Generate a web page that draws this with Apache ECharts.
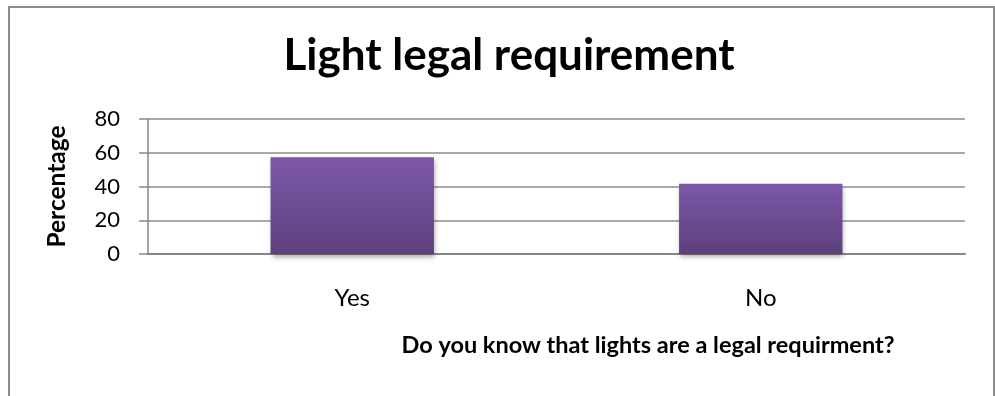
<!DOCTYPE html>
<html>
<head>
<meta charset="utf-8">
<script src="https://cdn.jsdelivr.net/npm/echarts@6/dist/echarts.min.js"></script>
<style>
  html, body { margin: 0; padding: 0; background: #fff; }
  #chart { width: 995px; height: 396px; position: absolute; left: 0; top: 0; }
  #frame {
    position: absolute; left: 8px; top: 6px; width: 983px; height: 400px;
    border: 2px solid #8c8c8c; border-bottom: none; pointer-events: none;
  }
</style>
</head>
<body>
<div id="chart"></div>
<div id="frame"></div>
<script>
const categories = ["Yes", "No"];
const percentages = [57.4, 41.6];
const yTicks = [0, 20, 40, 60, 80];

const chart = echarts.init(document.getElementById("chart"));

const barFill = new echarts.graphic.LinearGradient(0, 0, 0, 1, [
  { offset: 0, color: "#7c58a8" },
  { offset: 1, color: "#5e407d" },
]);

chart.setOption({
  animation: false,
  textStyle: { fontFamily: "Lato" },
  title: [
    {
      text: "Light legal requirement",
      left: 504,
      textAlign: "center",
      top: 29,
      textStyle: { fontFamily: "Lato", fontWeight: "bold", fontSize: 44, color: "#000" },
    },
    {
      // x axis title sits right of centre in the original
      text: "Do you know that lights are a legal requirment?",
      left: 643,
      textAlign: "center",
      top: 328,
      textStyle: { fontFamily: "Lato", fontWeight: "bold", fontSize: 23.5, color: "#000" },
    },
  ],
  grid: { left: 148, right: 30, top: 119, bottom: 142, containLabel: false, outerBoundsMode: "none" },
  xAxis: {
    type: "category",
    data: categories,
    axisLine: { lineStyle: { color: "#868686", width: 2 } },
    axisTick: { show: false },
    axisLabel: { margin: 32, fontSize: 24, color: "#000", fontFamily: "Lato" },
  },
  yAxis: {
    type: "value",
    min: yTicks[0],
    max: yTicks[yTicks.length - 1],
    interval: 20,
    name: "Percentage",
    nameLocation: "middle",
    nameRotate: 90,
    nameGap: 78,
    nameTextStyle: { fontFamily: "Lato", fontWeight: "bold", fontSize: 24.5, color: "#000" },
    axisLine: { show: true, lineStyle: { color: "#868686", width: 1.5 } },
    axisTick: { show: true, length: 9, lineStyle: { color: "#868686", width: 1.5 } },
    axisLabel: { margin: 28, fontSize: 22, color: "#000", fontFamily: "Lato" },
    splitLine: { lineStyle: { color: "#8c8c8c", width: 1.5 } },
  },
  series: [
    {
      type: "bar",
      data: percentages,
      barWidth: "40%",
      itemStyle: {
        color: barFill,
        shadowColor: "rgba(0,0,0,0.35)",
        shadowBlur: 5,
        shadowOffsetX: 1,
        shadowOffsetY: 3,
      },
    },
  ],
});
</script>
</body>
</html>
